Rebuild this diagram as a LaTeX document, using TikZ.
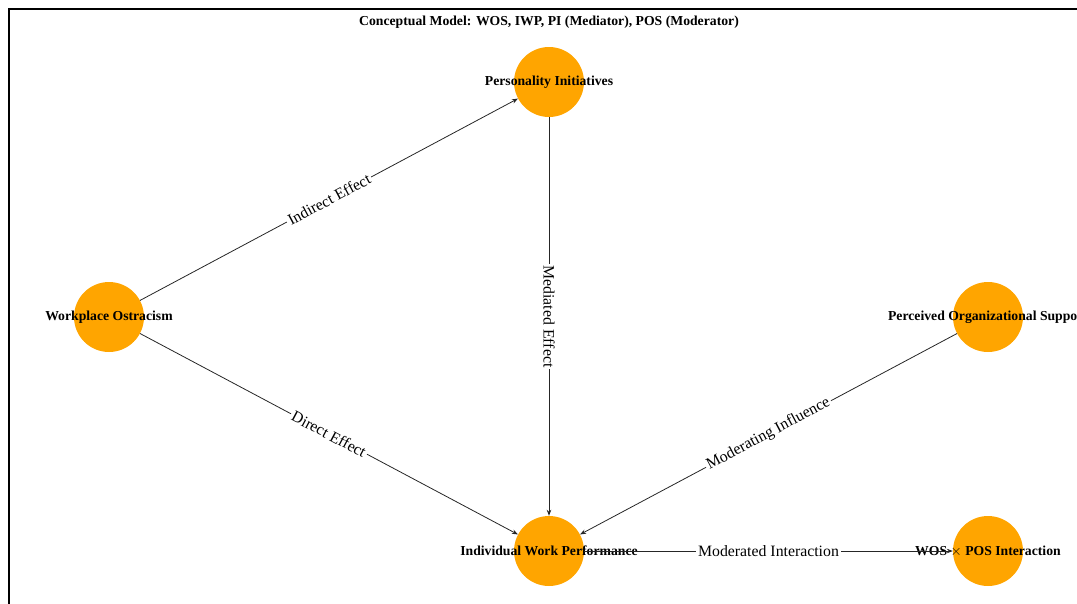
\documentclass[tikz,border=0pt]{standalone}
\usepackage{fontspec}
\setmainfont{Liberation Serif}
\usetikzlibrary{arrows.meta}
\definecolor{nodeorange}{HTML}{FFA500}
\tikzset{
  vertex/.style={circle,fill=nodeorange,minimum size=70pt,inner sep=0pt},
  vlabel/.style={font=\fontsize{13.7}{15}\selectfont\bfseries,inner sep=0pt},
  link/.style={draw=black!85,line width=0.8pt,-{Stealth[length=6pt,width=4.5pt]}},
  elabel/.style={midway,sloped,fill=white,inner sep=2pt,font=\fontsize{15.8}{18}\selectfont}
}
\begin{document}
\begin{tikzpicture}[x=1pt,y=-1pt]
  \useasboundingbox (0,0) rectangle (1077,603);
  \draw[line width=2pt] (9,9) rectangle (1110,630);
  \node[font=\fontsize{13.7}{16}\selectfont\bfseries] (title) at (549,22) {Conceptual Model: WOS, IWP, PI (Mediator), POS (Moderator)};
  % circles
  \node[vertex] (pi) at (549,82) {};
  \node[vertex] (wos) at (109,317) {};
  \node[vertex] (pos) at (988,317) {};
  \node[vertex] (iwp) at (549,551) {};
  \node[vertex] (inter) at (988,551) {};
  % names
  \node[vlabel] (pitext) at (pi) {Personality Initiatives};
  \node[vlabel] (wostext) at (wos) {Workplace Ostracism};
  \node[vlabel] (postext) at (pos) {Perceived Organizational Support};
  \node[vlabel] (iwptext) at (iwp) {Individual Work Performance};
  \node[vlabel] (intertext) at (inter) {WOS $\times$ POS Interaction};
  % paths
  \draw[link] (wos) -- (pi) node[elabel] {Indirect Effect};
  \draw[link] (wos) -- (iwp) node[elabel] {Direct Effect};
  \draw[link] (pi) -- (iwp) node[elabel] {Mediated Effect};
  \draw[link] (pos) -- (iwp) node[elabel] {Moderating Influence};
  \draw[link] (iwp) -- (inter) node[elabel] {Moderated Interaction};
\end{tikzpicture}
\end{document}
